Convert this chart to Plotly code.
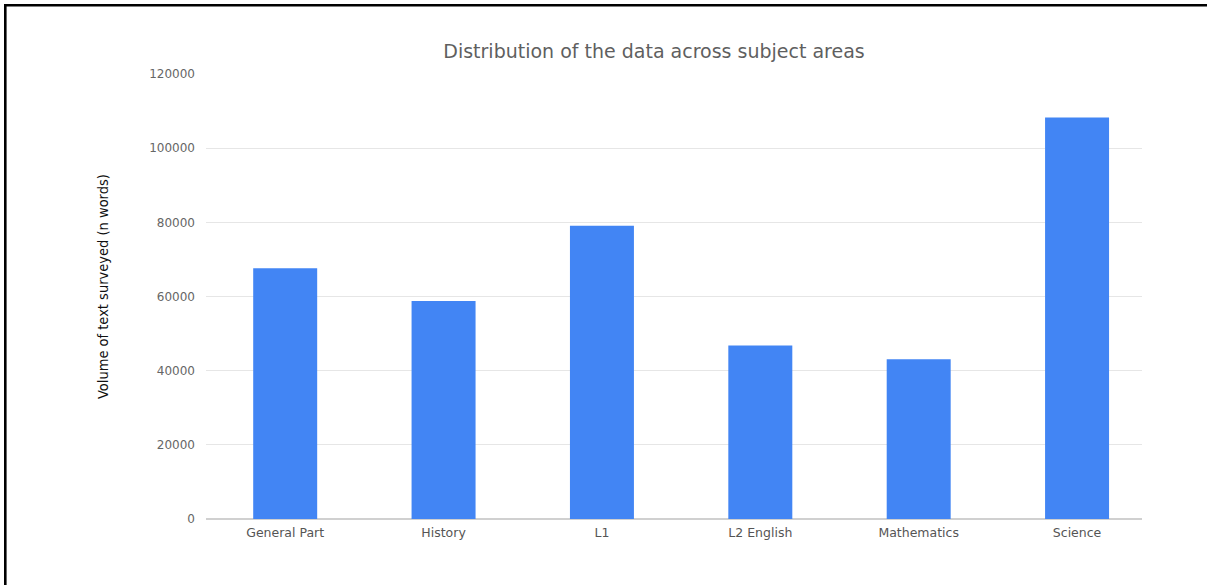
import plotly.graph_objects as go

# Word counts per subject area
subjects = ["General Part", "History", "L1", "L2 English", "Mathematics", "Science"]
word_counts = [67600, 58800, 79100, 46800, 43100, 108300]
y_ticks = [0, 20000, 40000, 60000, 80000, 100000, 120000]

W, H = 1207, 585
M_L, M_R, M_T, M_B = 206, 65, 74, 66
PW, PH = W - M_L - M_R, H - M_T - M_B


def px_x(px):
    return (px - M_L) / PW


def px_y(py):
    return (H - M_B - py) / PH


LABEL_FONT = "DejaVu Sans, Verdana, sans-serif"

fig = go.Figure(
    go.Bar(
        x=subjects,
        y=word_counts,
        marker=dict(color="#4285F4", line=dict(width=0)),
    )
)

fig.update_layout(
    width=W,
    height=H,
    margin=dict(l=M_L, r=M_R, t=M_T, b=M_B),
    paper_bgcolor="white",
    plot_bgcolor="white",
    bargap=0.596,
    showlegend=False,
    font=dict(family=LABEL_FONT, color="#555555", size=12),
    title=dict(
        text="Distribution of the data across subject areas",
        x=654 / W,
        xanchor="center",
        y=1 - 51 / H,
        yanchor="middle",
        font=dict(size=19, color="#5f5f5f", family=LABEL_FONT),
    ),
    xaxis=dict(
        range=[-0.5, 5.41],
        showgrid=False,
        showline=False,
        zeroline=False,
        ticks="",
        ticklabelstandoff=4,
        tickfont=dict(size=12.5, color="#555555"),
    ),
    yaxis=dict(
        range=[0, 120000],
        tickvals=y_ticks,
        ticktext=[str(v) for v in y_ticks],
        showgrid=True,
        gridcolor="#e6e6e6",
        gridwidth=1,
        zeroline=True,
        zerolinecolor="#d0d0d0",
        zerolinewidth=1.5,
        showline=False,
        ticks="",
        ticklabelstandoff=10,
        tickfont=dict(size=12, color="#666666"),
    ),
    annotations=[
        dict(
            text="Volume of text surveyed (n words)",
            xref="paper",
            yref="paper",
            x=px_x(103),
            y=px_y(287),
            xanchor="center",
            yanchor="middle",
            textangle=-90,
            showarrow=False,
            font=dict(
                size=14.5,
                color="#111111",
                family="DejaVu Sans Condensed, Liberation Sans Narrow, sans-serif",
            ),
        )
    ],
    shapes=[
        # frame: top and left edges
        dict(type="line", xref="paper", yref="paper",
             x0=px_x(5.3), x1=px_x(W + 5), y0=px_y(5.3), y1=px_y(5.3),
             line=dict(color="black", width=2.6)),
        dict(type="line", xref="paper", yref="paper",
             x0=px_x(5.3), x1=px_x(5.3), y0=px_y(4), y1=px_y(H + 5),
             line=dict(color="black", width=2.6)),
    ],
)

fig.write_html("out.html")
